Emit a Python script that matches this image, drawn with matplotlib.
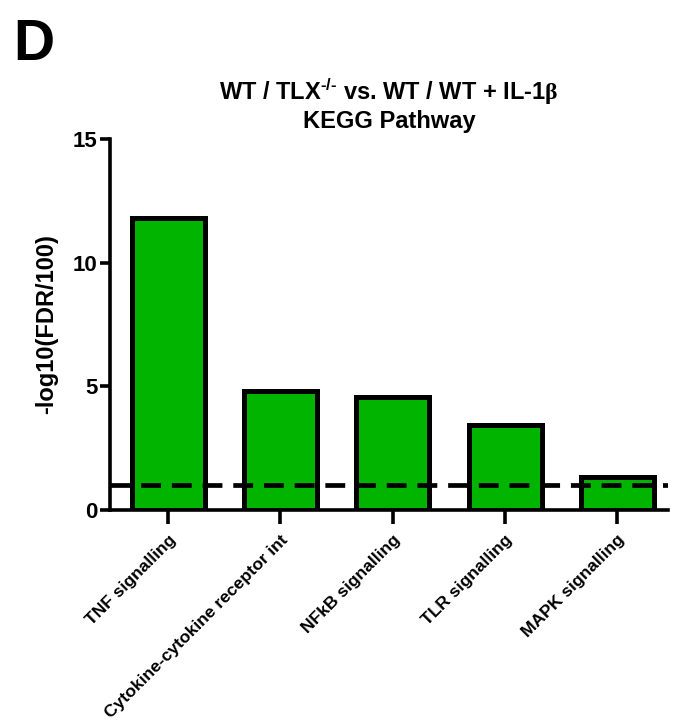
import matplotlib
matplotlib.use("Agg")
import matplotlib.pyplot as plt

categories = ["TNF signalling", "Cytokine-cytokine receptor int", "NFkB signalling",
              "TLR signalling", "MAPK signalling"]
values = [11.8, 4.8, 4.55, 3.45, 1.35]
threshold = 1.0
yticks = [0, 5, 10, 15]

plt.rcParams['font.family'] = ['Liberation Sans', 'DejaVu Sans']
plt.rcParams['font.weight'] = 'bold'
plt.rcParams['mathtext.fontset'] = 'custom'
plt.rcParams['mathtext.rm'] = 'Liberation Sans:bold'
plt.rcParams['mathtext.bf'] = 'Liberation Sans:bold'
plt.rcParams['mathtext.it'] = 'Liberation Sans:bold'
plt.rcParams['mathtext.sf'] = 'Liberation Serif'

fig = plt.figure(figsize=(6.9, 7.25), dpi=100)
ax = fig.add_axes([0.159, 0.2966, 0.809, 0.5117])

x = list(range(len(categories)))
ax.bar(x, values, width=0.65, color='#00b400', edgecolor='black', linewidth=3.6, zorder=2)
ax.axhline(threshold, color='black', linestyle=(0, (4.2, 2.3)), linewidth=3.4, zorder=3)

ax.set_xlim(-0.52, 4.45)
ax.set_ylim(0, 15)
ax.set_yticks(yticks)
ax.set_xticks(x)
ax.set_xticklabels(categories, rotation=45, ha='right', rotation_mode='anchor',
                   fontsize=12.6, fontweight='bold')
ax.tick_params(axis='y', labelsize=16, width=2.6, length=7, pad=2)
ax.tick_params(axis='x', width=2.6, length=10, pad=6)
for lab in ax.get_yticklabels():
    lab.set_fontweight('bold')

for s in ['top', 'right']:
    ax.spines[s].set_visible(False)
for s in ['left', 'bottom']:
    ax.spines[s].set_linewidth(2.6)

ax.set_ylabel("-log10(FDR/100)", fontsize=17, fontweight='bold', labelpad=10)
ax.set_title("WT / TLX$^{\\text{-/-}}$ vs. WT / WT + IL-1$\\mathsf{\\beta}$\nKEGG Pathway",
             fontsize=17, fontweight='bold', pad=8, linespacing=1.15)

fig.text(0.019, 0.917, "D", fontsize=41, fontweight='bold', va='baseline')

fig.savefig("out.png", dpi=100)
